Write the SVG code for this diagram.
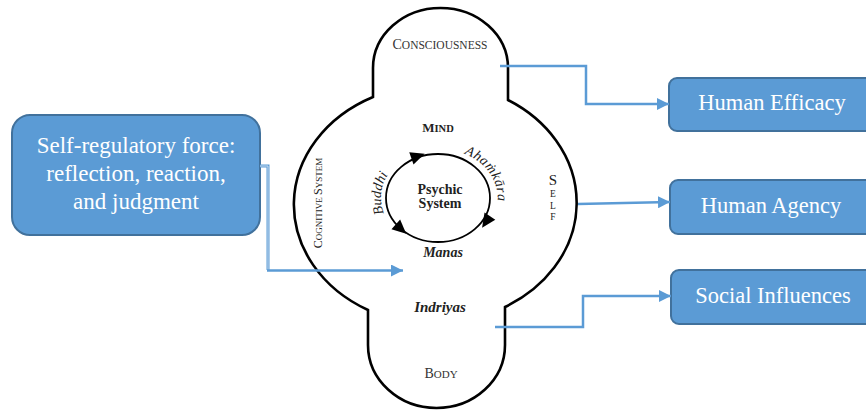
<svg xmlns="http://www.w3.org/2000/svg" xmlns:xlink="http://www.w3.org/1999/xlink" width="866" height="410" viewBox="0 0 866 410">
  <style>
    .box { fill: #5B9BD5; stroke: #41719C; stroke-width: 2; }
    .boxtxt { font-family: "Liberation Serif", "Times New Roman", serif; fill: #ffffff; text-anchor: middle; }
    .link { fill: none; stroke: #5B9BD5; stroke-width: 2.5; }
    .outline { fill: none; stroke: #000000; stroke-width: 2.6; stroke-linejoin: miter; }
    .lbl { font-family: "Liberation Serif", "Times New Roman", serif; fill: #222222; text-anchor: middle; }
    .sc { fill: #333333; }
  </style>
  <defs>
    <marker id="arrow" markerUnits="userSpaceOnUse" markerWidth="12" markerHeight="12" refX="12" refY="6" orient="auto">
      <path d="M0,0 L12,6 L0,12 Z" fill="#5B9BD5"/>
    </marker>
    <path id="tri" d="M7,0 L-7,-6.5 L-7,6.5 Z" fill="#000000"/>
    <path id="buddhiPath" d="M388.6,222.5 A57 49 0 0 1 394.3,166.5"/>
    <path id="ahamPath" d="M456,151 A57 49 0 0 1 496,210"/>
  </defs>

  <!-- outer figure: consciousness cap, self ellipse, body cap -->
  <g id="figure">
    <path class="outline" d="M373,97 L373,68 A67.5 60 0 0 1 508,68 L508,100 A142 120 0 0 1 505,307 L505,345 A68.5 63 0 0 1 368,345 L368,310 A142 120 0 0 1 373,97 Z"/>
  </g>

  <!-- labels of the figure -->
  <g id="consciousness">
    <text class="lbl sc" x="440" y="49"><tspan font-size="14">C</tspan><tspan font-size="11.5">ONSCIOUSNESS</tspan></text>
  </g>
  <g id="mind">
    <text class="lbl" x="438" y="132" font-weight="bold"><tspan font-size="13">M</tspan><tspan font-size="10.5">IND</tspan></text>
  </g>
  <g id="self">
    <text class="lbl" x="553" y="185" font-size="15">S</text>
    <text class="lbl" x="553" y="197" font-size="9.5">E</text>
    <text class="lbl" x="553" y="208.5" font-size="9.5">L</text>
    <text class="lbl" x="553" y="220" font-size="9.5">F</text>
  </g>
  <g id="cognitive-system">
    <text class="lbl" transform="translate(322,203) rotate(-90)"><tspan font-size="12">C</tspan><tspan font-size="9">OGNITIVE </tspan><tspan font-size="12">S</tspan><tspan font-size="9">YSTEM</tspan></text>
  </g>
  <g id="body">
    <text class="lbl sc" x="441" y="378"><tspan font-size="14">B</tspan><tspan font-size="11">ODY</tspan></text>
  </g>
  <g id="indriyas">
    <text class="lbl" x="440" y="312" font-size="15" font-weight="bold" font-style="italic">Indriyas</text>
  </g>

  <!-- psychic system cycle -->
  <g id="psychic-system">
    <ellipse cx="438" cy="198" rx="52" ry="44" fill="none" stroke="#000000" stroke-width="1.8"/>
    <use xlink:href="#tri" transform="translate(418,156) rotate(-19)"/>
    <use xlink:href="#tri" transform="translate(486,222) rotate(124)"/>
    <use xlink:href="#tri" transform="translate(401,229) rotate(42)"/>
    <text class="lbl" x="440" y="194" font-size="14" font-weight="bold">Psychic</text>
    <text class="lbl" x="440" y="208" font-size="14" font-weight="bold">System</text>
    <text class="lbl" font-size="14" font-style="italic"><textPath xlink:href="#buddhiPath" startOffset="50%">Buddhi</textPath></text>
    <text class="lbl" font-size="14" font-style="italic" letter-spacing="0.5"><textPath xlink:href="#ahamPath" startOffset="50%">Ahaṁkāra</textPath></text>
    <text class="lbl" x="443" y="257" font-size="14" font-weight="bold" font-style="italic">Manas</text>
  </g>

  <!-- boxes -->
  <g id="self-regulatory">
    <rect class="box" x="12" y="115" width="248" height="120" rx="18" ry="18"/>
    <text class="boxtxt" font-size="23"><tspan x="136" y="153">Self-regulatory force:</tspan><tspan x="136" y="181">reflection, reaction,</tspan><tspan x="136" y="209">and judgment</tspan></text>
  </g>
  <g id="human-efficacy">
    <rect class="box" x="669" y="78" width="210" height="53" rx="8" ry="8"/>
    <text class="boxtxt" x="772" y="110" font-size="22.5">Human Efficacy</text>
  </g>
  <g id="human-agency">
    <rect class="box" x="670" y="180" width="210" height="54" rx="8" ry="8"/>
    <text class="boxtxt" x="771" y="213" font-size="22.5">Human Agency</text>
  </g>
  <g id="social-influences">
    <rect class="box" x="671" y="270" width="210" height="54" rx="8" ry="8"/>
    <text class="boxtxt" x="773" y="303" font-size="22.5">Social Influences</text>
  </g>

  <!-- connectors -->
  <g id="connectors">
    <path class="link" d="M500,66 L586,66 L586,104 L669,104" marker-end="url(#arrow)"/>
    <path class="link" d="M578,204 L670,202" marker-end="url(#arrow)"/>
    <path class="link" d="M495,327 L583,327 L583,296 L671,296" marker-end="url(#arrow)"/>
    <path d="M260,166 L268,166 L268,270" fill="none" stroke="#5B9BD5" stroke-width="3"/>
    <path d="M260,166 L268,166 L268,270" fill="none" stroke="#c9dcf0" stroke-width="1"/>
    <path class="link" d="M267,270.5 L403,270.5" marker-end="url(#arrow)"/>
  </g>
</svg>
